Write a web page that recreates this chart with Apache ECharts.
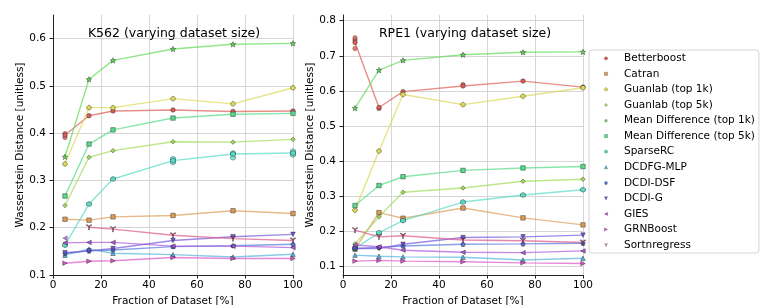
<!DOCTYPE html>
<html><head><meta charset="utf-8">
<script src="https://cdn.jsdelivr.net/npm/echarts@6/dist/echarts.min.js"></script>
<style>html,body{margin:0;padding:0;background:#fff}#c{width:761px;height:305px}</style>
</head><body><div id="c"></div>
<script>
const fractions = [5, 15, 25, 50, 75, 100];
const methods = ['Betterboost','Catran','Guanlab (top 1k)','Guanlab (top 5k)','Mean Difference (top 1k)','Mean Difference (top 5k)','SparseRC','DCDFG-MLP','DCDI-DSF','DCDI-G','GIES','GRNBoost','Sortnregress'];
const k562Ticks = [0.1, 0.2, 0.3, 0.4, 0.5, 0.6];
const rpe1Ticks = [0.1, 0.2, 0.3, 0.4, 0.5, 0.6, 0.7, 0.8];
const xTicks = [0, 20, 40, 60, 80, 100];

const k562_betterboost = [0.396, 0.437, 0.447, 0.449, 0.446, 0.447];
const k562_catran = [0.218, 0.216, 0.223, 0.226, 0.236, 0.230];
const k562_guanlab1k = [0.335, 0.454, 0.454, 0.473, 0.462, 0.496];
const k562_guanlab5k = [0.247, 0.349, 0.363, 0.382, 0.381, 0.387];
const k562_md1k = [0.350, 0.514, 0.554, 0.578, 0.588, 0.590];
const k562_md5k = [0.267, 0.377, 0.407, 0.432, 0.440, 0.442];
const k562_sparserc = [0.163, 0.250, 0.303, 0.342, 0.356, 0.358];
const k562_dcdfg = [0.142, 0.155, 0.146, 0.143, 0.138, 0.144];
const k562_dcdidsf = [0.146, 0.151, 0.153, 0.160, 0.162, 0.165];
const k562_dcdig = [0.147, 0.151, 0.156, 0.173, 0.181, 0.186];
const k562_gies = [0.168, 0.169, 0.169, 0.161, 0.161, 0.158];
const k562_grnboost = [0.125, 0.129, 0.130, 0.137, 0.135, 0.135];
const k562_sortnregress = [null, 0.201, 0.197, 0.184, 0.177, 0.173];

const rpe1_betterboost = [0.738, 0.553, 0.598, 0.614, 0.628, 0.611];
const rpe1_catran = [0.150, 0.254, 0.238, 0.267, 0.239, 0.219];
const rpe1_guanlab1k = [0.261, 0.429, 0.590, 0.561, 0.585, 0.609];
const rpe1_guanlab5k = [0.165, 0.242, 0.312, 0.324, 0.343, 0.349];
const rpe1_md1k = [0.551, 0.659, 0.687, 0.703, 0.710, 0.711];
const rpe1_md5k = [0.274, 0.331, 0.356, 0.374, 0.381, 0.385];
const rpe1_sparserc = [0.152, 0.197, 0.231, 0.284, 0.304, 0.319];
const rpe1_dcdfg = [0.133, 0.130, 0.128, 0.127, 0.119, 0.124];
const rpe1_dcdidsf = [0.152, 0.155, 0.159, 0.164, 0.165, 0.167];
const rpe1_dcdig = [0.152, 0.152, 0.164, 0.183, 0.185, 0.190];
const rpe1_gies = [0.162, 0.157, 0.147, 0.141, 0.140, 0.145];
const rpe1_grnboost = [0.116, 0.118, 0.116, 0.114, 0.111, 0.109];
const rpe1_sortnregress = [0.204, 0.185, 0.188, 0.176, 0.174, 0.169];

// individual replicate points visible around some means: [fraction, value]
const k562_betterboost_reps = [[5, 0.391], [5, 0.399]];
const k562_sparserc_reps = [[50, 0.338], [50, 0.346], [75, 0.348], [75, 0.358], [100, 0.354], [100, 0.362]];
const k562_gies_reps = [[5, 0.178]];
const rpe1_betterboost_reps = [[5, 0.721], [5, 0.745], [5, 0.751], [15, 0.550], [50, 0.618]];

const k562Data = [k562_betterboost,k562_catran,k562_guanlab1k,k562_guanlab5k,k562_md1k,k562_md5k,k562_sparserc,k562_dcdfg,k562_dcdidsf,k562_dcdig,k562_gies,k562_grnboost,k562_sortnregress];
const rpe1Data = [rpe1_betterboost,rpe1_catran,rpe1_guanlab1k,rpe1_guanlab5k,rpe1_md1k,rpe1_md5k,rpe1_sparserc,rpe1_dcdfg,rpe1_dcdidsf,rpe1_dcdig,rpe1_gies,rpe1_grnboost,rpe1_sortnregress];

const colors = ['#db5f57','#db9c57','#dbd957','#a0db57','#63db57','#57db88','#57dbc5','#57b5db','#5778db','#7357db','#b057db','#db57c9','#db578c'];
const STAR = 'path://M0,-10 L2.35,-3.24 L9.51,-3.09 L3.8,1.24 L5.88,8.09 L0,4 L-5.88,8.09 L-3.8,1.24 L-9.51,-3.09 L-2.35,-3.24 Z';
const OCT = 'path://M-4,-10 L4,-10 L10,-4 L10,4 L4,10 L-4,10 L-10,4 L-10,-4 Z';
const HEX = 'path://M0,-10 L8.66,-5 L8.66,5 L0,10 L-8.66,5 L-8.66,-5 Z';
const PENT = 'path://M0,-10 L9.5,-3.1 L5.9,8.1 L-5.9,8.1 L-9.5,-3.1 Z';
const TRIY = 'path://M-1.2,0 L-1.2,10 L1.2,10 L1.2,0 L9,-4.5 L7.8,-6.6 L0,-2 L-7.8,-6.6 L-9,-4.5 Z';
const symbols = ['circle','rect',OCT,'diamond',STAR,'rect',HEX,'triangle',PENT,'triangle','triangle','triangle',TRIY];
const rotates = [0,0,0,0,0,0,0,0,0,180,90,-90,0];
const sizes = [4.5,4.5,4.5,4.5,5.5,4.5,5,4.5,4.5,4.5,4.5,4.5,5.5];

const FONT = 'DejaVu Sans';
function mkSeries(dataArr, idx) {
  return dataArr.map((vals, i) => ({
    name: methods[i], type: 'line', xAxisIndex: idx, yAxisIndex: idx,
    data: fractions.map((f, j) => [f, vals[j]]),
    symbol: symbols[i], symbolRotate: rotates[i], symbolSize: sizes[i],
    showAllSymbol: true, connectNulls: false,
    lineStyle: { color: colors[i], width: 1.4, opacity: 0.7 },
    itemStyle: { color: colors[i], borderColor: 'rgba(0,0,0,0.6)', borderWidth: 0.6 },
    emphasis: { disabled: true }, animation: false
  }));
}
function mkReps(pts, i, idx) {
  return {
    name: methods[i], type: 'scatter', xAxisIndex: idx, yAxisIndex: idx, data: pts,
    symbol: symbols[i], symbolRotate: rotates[i], symbolSize: sizes[i],
    itemStyle: { color: colors[i], borderColor: 'rgba(0,0,0,0.6)', borderWidth: 0.6 },
    emphasis: { disabled: true }, animation: false
  };
}
function xAx(gi) {
  return {
    type: 'value', gridIndex: gi, min: 0, max: 100, interval: 20,
    name: 'Fraction of Dataset [%]', nameLocation: 'middle', nameGap: 19,
    nameTextStyle: { fontFamily: FONT, fontSize: 10.5, color: '#000' },
    axisLine: { show: true, lineStyle: { color: '#222', width: 1 } },
    axisTick: { show: true, length: 3.5, lineStyle: { color: '#222' } },
    axisLabel: { fontFamily: FONT, fontSize: 10.5, color: '#000', margin: 5 },
    splitLine: { show: true, lineStyle: { color: '#d6d6d6', width: 1 } }
  };
}
function yAx(gi, min, max, ticks) {
  return {
    type: 'value', gridIndex: gi, min: min, max: max,
    name: 'Wasserstein Distance [unitless]', nameLocation: 'middle', nameGap: 27,
    nameTextStyle: { fontFamily: FONT, fontSize: 10.5, color: '#000' },
    axisLine: { show: true, lineStyle: { color: '#222', width: 1 } },
    axisTick: { show: true, length: 3.5, lineStyle: { color: '#222' }, customValues: ticks },
    axisLabel: { fontFamily: FONT, fontSize: 10.5, color: '#000', margin: 7, customValues: ticks,
      formatter: v => v.toFixed(1) },
    splitLine: { show: true, lineStyle: { color: '#d6d6d6', width: 1 } }
  };
}
const chart = echarts.init(document.getElementById('c'), null, { renderer: 'canvas' });
chart.setOption({
  animation: false,
  backgroundColor: '#fff',
  title: [
    { text: 'K562 (varying dataset size)', left: 174, top: 27, textAlign: 'center', padding: 0,
      textStyle: { fontFamily: FONT, fontSize: 12.5, fontWeight: 'normal', color: '#000' } },
    { text: 'RPE1 (varying dataset size)', left: 465, top: 27, textAlign: 'center', padding: 0,
      textStyle: { fontFamily: FONT, fontSize: 12.5, fontWeight: 'normal', color: '#000' } }
  ],
  grid: [
    { left: 53, top: 15, width: 240, height: 260, outerBoundsMode: 'none', containLabel: false },
    { left: 343, top: 15, width: 240, height: 260, outerBoundsMode: 'none', containLabel: false }
  ],
  xAxis: [xAx(0), xAx(1)],
  yAxis: [yAx(0, 0.1, 0.65, k562Ticks), yAx(1, 0.0765, 0.816, rpe1Ticks)],
  legend: {
    orient: 'vertical', left: 589, top: 50, data: methods,
    itemWidth: 26, itemHeight: 4, itemGap: 1.56,
    padding: [1.3, 4, 1, 3],
    borderColor: '#d5d5d5', borderWidth: 1, borderRadius: 3, backgroundColor: '#fff',
    lineStyle: { opacity: 0 },
    itemStyle: { borderWidth: 0.4, borderColor: 'rgba(0,0,0,0.5)' },
    textStyle: { fontFamily: FONT, fontSize: 10.5, color: '#000', lineHeight: 14 },
    selectedMode: false
  },
  series: [
    ...mkSeries(k562Data, 0), ...mkSeries(rpe1Data, 1),
    mkReps(k562_betterboost_reps, 0, 0), mkReps(k562_sparserc_reps, 6, 0), mkReps(k562_gies_reps, 10, 0),
    mkReps(rpe1_betterboost_reps, 0, 1)
  ]
});
</script></body></html>
